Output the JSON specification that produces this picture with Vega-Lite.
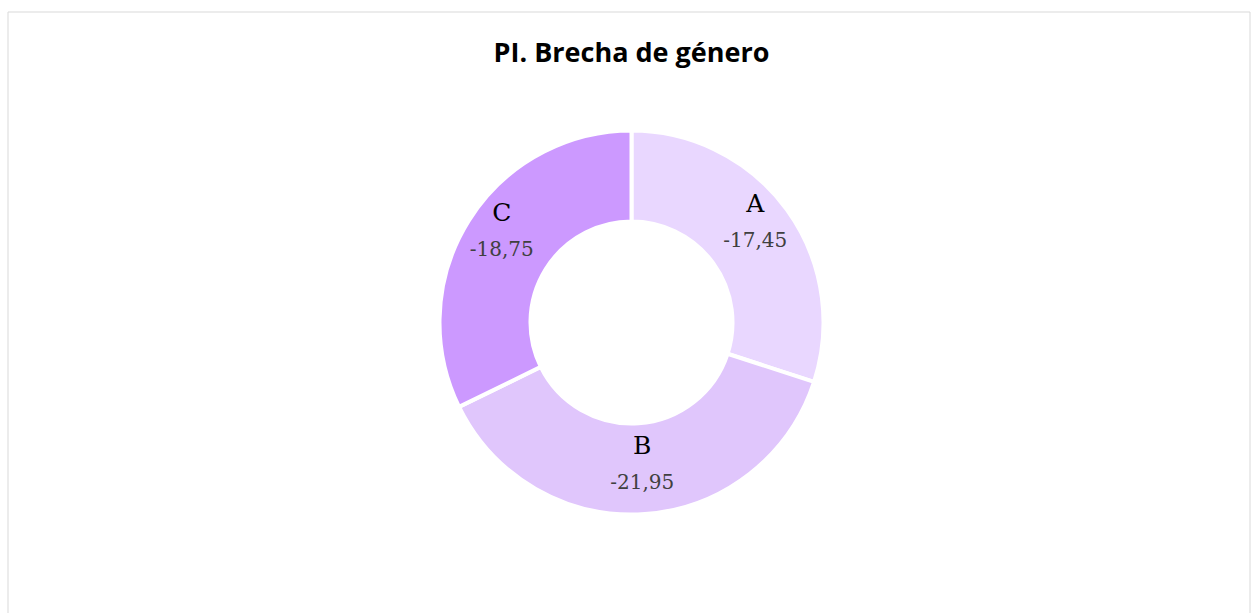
{
  "$schema": "https://vega.github.io/schema/vega-lite/v6.json",
  "width": 1242,
  "height": 622,
  "autosize": {"type": "none"},
  "padding": {"left": 7.5, "top": 11.5, "right": 1.5, "bottom": -20.5},
  "background": "white",
  "view": {"stroke": "#D9D9D9", "strokeWidth": 1, "fill": "white"},
  "config": {
    "locale": {"number": {"decimal": ",", "thousands": ".", "grouping": [3], "currency": ["", " €"], "minus": "-"}}
  },
  "title": {
    "text": "PI. Brecha de género",
    "font": "Open Sans",
    "fontSize": 27,
    "fontWeight": "bold",
    "color": "#000000",
    "anchor": "middle",
    "offset": -56,
    "dx": 3
  },
  "data": {
    "values": [
      {"zona": "A", "brecha": -17.45, "magnitud": 17.45},
      {"zona": "B", "brecha": -21.95, "magnitud": 21.95},
      {"zona": "C", "brecha": -18.75, "magnitud": 18.75}
    ]
  },
  "encoding": {
    "theta": {"field": "magnitud", "type": "quantitative", "stack": true},
    "order": {"field": "zona", "sort": "ascending"}
  },
  "layer": [
    {
      "mark": {"type": "arc", "innerRadius": 101, "outerRadius": 192, "stroke": "white", "strokeWidth": 4, "xOffset": 3},
      "encoding": {
        "color": {
          "field": "zona",
          "type": "nominal",
          "scale": {"domain": ["A", "B", "C"], "range": ["#E9D7FF", "#E0C6FC", "#CC99FF"]},
          "legend": null
        }
      }
    },
    {
      "mark": {"type": "text", "radius": 153, "dy": -29, "xOffset": 3, "font": "DejaVu Serif", "fontSize": 25, "color": "#000000", "baseline": "middle", "align": "center"},
      "encoding": {"text": {"field": "zona", "type": "nominal"}}
    },
    {
      "mark": {"type": "text", "radius": 153, "dy": 8, "xOffset": 3, "font": "DejaVu Serif", "fontSize": 20, "color": "#404040", "baseline": "middle", "align": "center"},
      "encoding": {"text": {"field": "brecha", "type": "quantitative", "format": ".2f"}}
    }
  ]
}
